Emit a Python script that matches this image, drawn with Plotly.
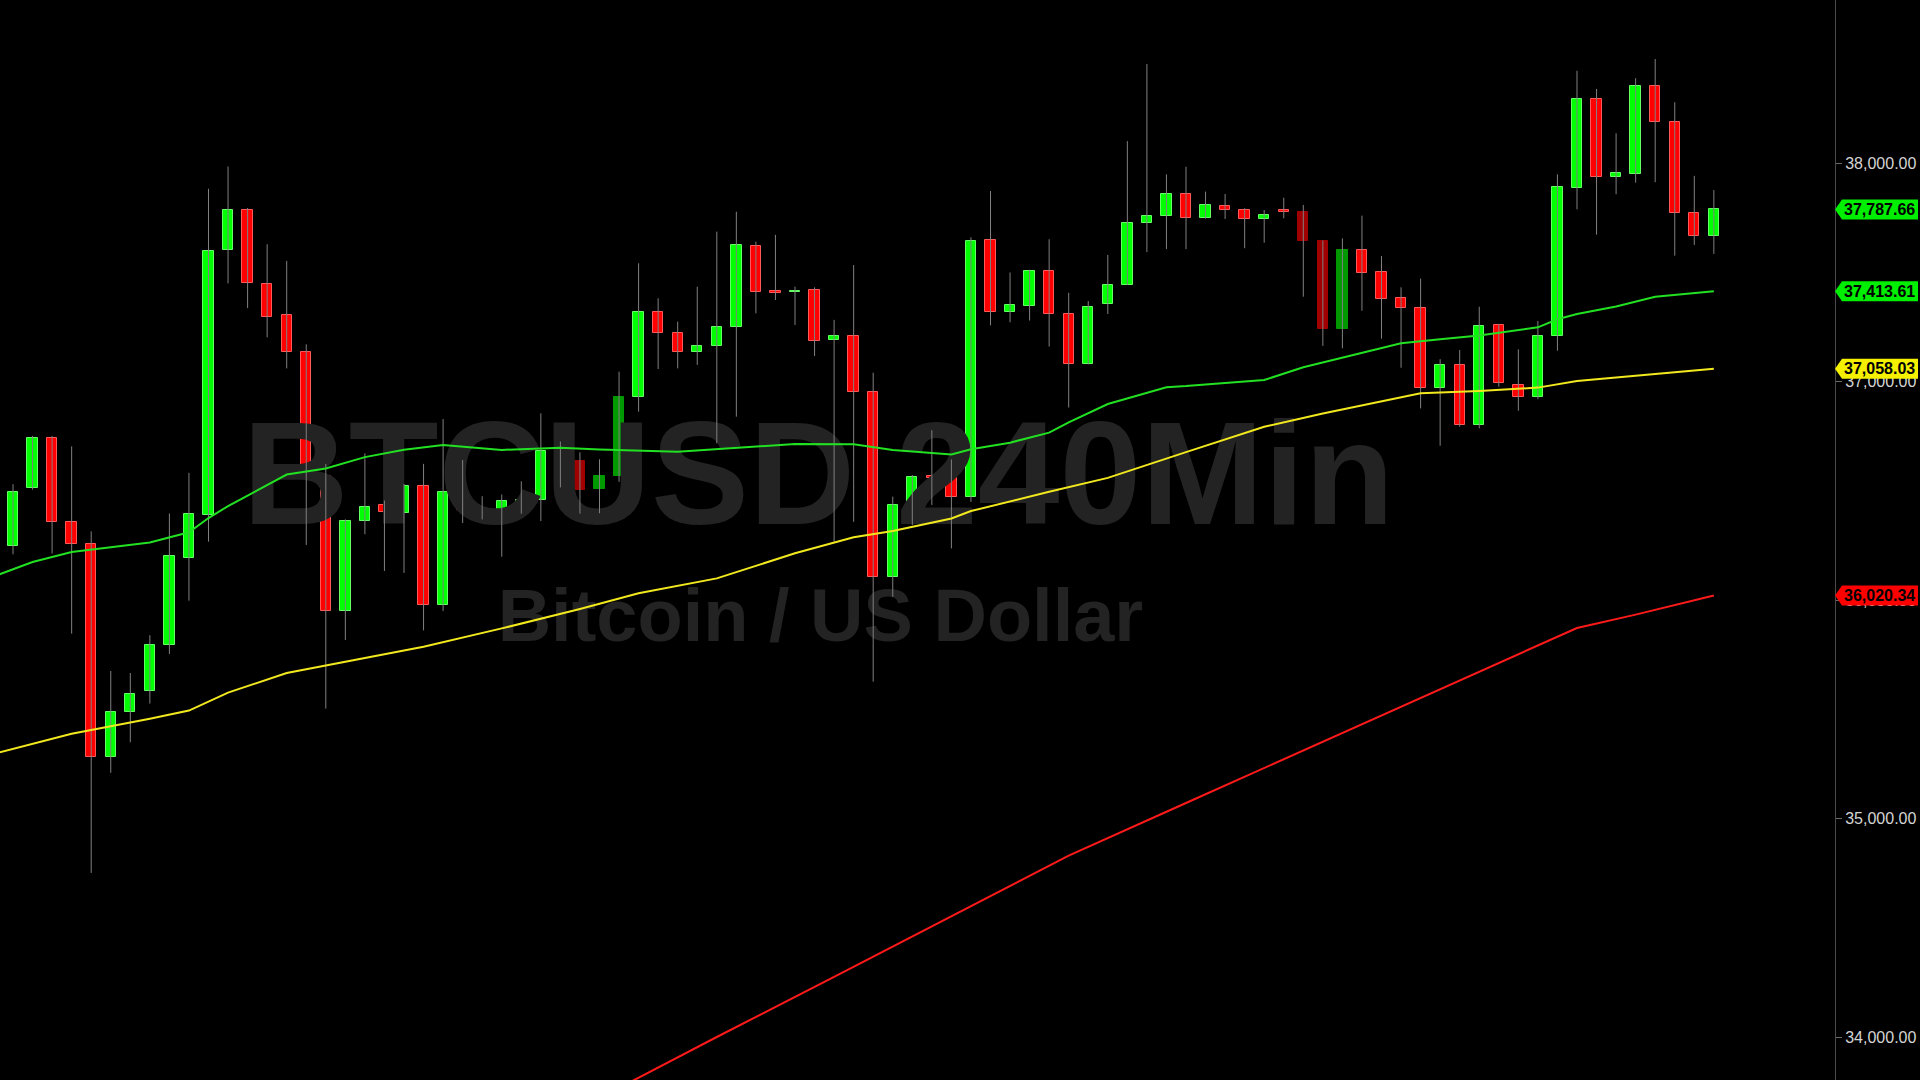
import plotly.graph_objects as go

# ---------------- data ----------------
candle_idx = list(range(88))

open_ = [36245, 36511, 36742, 36357, 36258, 35282, 35489, 35582, 35794, 36194,
         36388, 37600, 37785, 37446, 37303, 37136, 36566, 35951, 36363, 36433,
         36399, 36522, 35975, 36499, 36411, 36385, 36448, 36457, 36553, 36634,
         36507, 36568, 36930, 37317, 37221, 37134, 37161, 37251, 37620, 37412,
         37410, 37419, 37189, 37208, 36952, 36104, 36420, 36566, 36560, 36470,
         37646, 37319, 37346, 37508, 37308, 37081, 37355, 37443, 37725, 37757,
         37858, 37747, 37805, 37785, 37744, 37783, 37777, 37643, 37239, 37602,
         37500, 37382, 37338, 36972, 37076, 36800, 37259, 36983, 36930, 37207,
         37887, 38293, 37935, 37951, 38354, 38186, 37771, 37667]
high = [36530, 36751, 36751, 36703, 36314, 35675, 35666, 35839, 36396, 36582,
        37882, 37984, 37794, 37628, 37552, 37170, 36623, 36369, 36671, 36455,
        36531, 36623, 36828, 36641, 36475, 36483, 36543, 36854, 36725, 36676,
        36644, 37045, 37541, 37381, 37274, 37434, 37686, 37777, 37640, 37671,
        37434, 37431, 37282, 37533, 37040, 36473, 36572, 36777, 36643, 37660,
        37872, 37499, 37511, 37651, 37406, 37368, 37579, 38100, 38453, 37948,
        37983, 37869, 37858, 37793, 37785, 37841, 37808, 37645, 37655, 37759,
        37574, 37431, 37471, 37102, 37144, 37342, 37263, 37147, 37277, 37948,
        38422, 38339, 38136, 38388, 38476, 38278, 37941, 37876]
low = [36209, 36505, 36213, 35846, 34751, 35209, 35349, 35526, 35753, 35997,
       36267, 37449, 37336, 37202, 37060, 36252, 35503, 35817, 36301, 36133,
       36124, 35861, 35950, 36352, 36369, 36198, 36395, 36361, 36515, 36395,
       36397, 36541, 36862, 37057, 37060, 37076, 36717, 36839, 37312, 37373,
       37259, 37117, 36267, 36358, 35626, 36015, 36343, 36435, 36236, 36449,
       37257, 37271, 37279, 37160, 36881, 37078, 37309, 37442, 37592, 37606,
       37606, 37746, 37744, 37610, 37635, 37747, 37388, 37163, 37152, 37324,
       37196, 37063, 36877, 36706, 36793, 36786, 36976, 36866, 36919, 37141,
       37788, 37672, 37857, 37910, 37912, 37576, 37625, 37584]
close = [36494, 36742, 36357, 36258, 35282, 35489, 35572, 35796, 36202, 36392,
         37597, 37785, 37449, 37297, 37137, 36562, 35951, 36363, 36426, 36401,
         36522, 35975, 36496, 36410, 36399, 36454, 36457, 36681, 36638, 36504,
         36566, 36928, 37317, 37223, 37134, 37163, 37249, 37625, 37411, 37405,
         37416, 37185, 37208, 36953, 36104, 36435, 36564, 36560, 36470, 37645,
         37319, 37352, 37508, 37308, 37081, 37343, 37443, 37725, 37758, 37858,
         37747, 37806, 37785, 37744, 37763, 37778, 37643, 37239, 37602, 37495,
         37379, 37335, 36972, 37076, 36800, 37254, 36995, 36928, 37208, 37890,
         38292, 37935, 37954, 38354, 38186, 37771, 37665, 37787.66]

# candles drawn in a muted shade on the source chart
muted_candles = [28, 29, 30, 31, 66, 67, 68]

# moving averages, read at selected candles
ma_fast_idx = [-1, 1, 3, 7, 9, 10, 11, 14, 16, 18, 20, 22, 25, 28, 30, 34, 40, 43,
               45, 48, 49, 51, 53, 54, 56, 59, 60, 64, 66, 69, 71, 73, 75, 78, 79,
               80, 82, 84, 86, 87]
ma_fast_val = [36107, 36174, 36220, 36263, 36310, 36375, 36430, 36574, 36602, 36654,
               36688, 36709, 36687, 36697, 36689, 36679, 36714, 36713, 36687, 36666,
               36690, 36720, 36766, 36813, 36897, 36974, 36979, 37007, 37065, 37129,
               37175, 37193, 37211, 37248, 37285, 37309, 37343, 37388, 37407, 37413.61]

ma_mid_idx = [-1, 3, 7, 9, 11, 14, 21, 25, 29, 32, 36, 40, 43, 45, 48, 49, 53, 56,
              60, 64, 67, 71, 72, 75, 78, 80, 84, 87]
ma_mid_val = [35295, 35388, 35457, 35494, 35576, 35666, 35786, 35870, 35959, 36031,
              36099, 36214, 36287, 36316, 36373, 36407, 36495, 36559, 36677, 36793,
              36854, 36930, 36946, 36957, 36972, 37002, 37034, 37058.03]

ma_slow_idx = [31, 36, 42, 48, 54, 60, 66, 72, 77, 80, 83, 87]
ma_slow_val = [33767, 34000, 34275, 34554, 34830, 35071, 35311, 35552, 35752, 35872,
               35933, 36020.34]

ytick_vals = [34000, 35000, 36000, 37000, 38000]
ytick_text = ["34,000.00", "35,000.00", "36,000.00", "37,000.00", "38,000.00"]

tag_values = [37787.66, 37413.61, 37058.03, 36020.34]
tag_text = ["37,787.66", "37,413.61", "37,058.03", "36,020.34"]

watermark_main = "BTCUSD 240Min"
watermark_sub = "Bitcoin / US Dollar"

# ---------------- styling ----------------
GREEN = "#00ff00"
RED = "#ff0000"
GREEN_MUTED = "#009a00"
RED_MUTED = "#a00000"
FONT = "Liberation Sans, Arial, sans-serif"

X_RANGE = [-0.665, 93.197]
Y_RANGE = [33803.2, 38746.0]
PX_PER_PRICE = 1080 / (Y_RANGE[1] - Y_RANGE[0])

fig = go.Figure()

# watermark (beneath the candles)
fig.add_trace(go.Scatter(
    x=[41.2], y=[36518], mode="text", text=[watermark_main],
    textposition="middle center",
    textfont=dict(family=FONT, size=147, color="#232323", weight="bold"),
    hoverinfo="skip", showlegend=False))
fig.add_trace(go.Scatter(
    x=[41.3], y=[35897], mode="text", text=[watermark_sub],
    textposition="middle center",
    textfont=dict(family=FONT, size=74, color="#232323", weight="bold"),
    hoverinfo="skip", showlegend=False))

# wicks
wx, wy = [], []
for i, h, l in zip(candle_idx, high, low):
    wx += [i, i, None]
    wy += [l, h, None]
fig.add_trace(go.Scatter(x=wx, y=wy, mode="lines",
                         line=dict(color="#808080", width=1),
                         hoverinfo="skip", showlegend=False))

# bodies
bases, heights, colors, edges = [], [], [], []
for i, o, c in zip(candle_idx, open_, close):
    up = c >= o
    bases.append(min(o, c))
    heights.append(abs(c - o))
    if i in muted_candles:
        col = GREEN_MUTED if up else RED_MUTED
        edge = col
    else:
        col = GREEN if up else RED
        edge = "#66ff66" if up else "#ff5a5a"
    colors.append(col)
    edges.append(edge)
fig.add_trace(go.Bar(x=candle_idx, y=heights, base=bases, width=0.53,
                     marker=dict(color=colors, line=dict(color=edges, width=1)),
                     hoverinfo="skip", showlegend=False))

# moving averages
fig.add_trace(go.Scatter(x=ma_slow_idx, y=ma_slow_val, mode="lines",
                         line=dict(color="#ff1a1a", width=2),
                         hoverinfo="skip", showlegend=False))
fig.add_trace(go.Scatter(x=ma_mid_idx, y=ma_mid_val, mode="lines",
                         line=dict(color="#f2e81e", width=2),
                         hoverinfo="skip", showlegend=False))
fig.add_trace(go.Scatter(x=ma_fast_idx, y=ma_fast_val, mode="lines",
                         line=dict(color="#22e022", width=2),
                         hoverinfo="skip", showlegend=False))

# price tags on the axis
tag_fill = ["#00ee00", "#00ee00", "#f4f000", "#ff0000"]
half = 10 / PX_PER_PRICE
x_tip, x_body, x_end = 1.0, 1 + 7 / 1835, 1 + 83 / 1835
for v, t, col in zip(tag_values, tag_text, tag_fill):
    path = (f"M {x_tip},{v} L {x_body},{v + half} L {x_end},{v + half} "
            f"L {x_end},{v - half} L {x_body},{v - half} Z")
    fig.add_shape(type="path", path=path, xref="paper", yref="y",
                  fillcolor=col, line=dict(width=0), layer="above")
    fig.add_annotation(x=1 + 7.5 / 1835, y=v, xref="paper", yref="y",
                       text=t, showarrow=False, xanchor="left", yanchor="middle",
                       font=dict(family=FONT, size=16, color="#000000", weight="bold"),
                       borderpad=0)

fig.update_layout(
    width=1920, height=1080,
    margin=dict(l=0, r=85, t=0, b=0, pad=0),
    paper_bgcolor="#000000", plot_bgcolor="#000000",
    showlegend=False, bargap=0,
    xaxis=dict(range=X_RANGE, domain=[0, 1], showgrid=False, zeroline=False,
               showticklabels=False, showline=False, ticks=""),
    yaxis=dict(range=Y_RANGE, side="right", showgrid=False, zeroline=False,
               tickvals=ytick_vals, ticktext=ytick_text,
               ticks="outside", ticklen=6, tickcolor="#6a6a6a", tickwidth=1,
               showline=True, linecolor="#4a4a4a", linewidth=1,
               tickfont=dict(family=FONT, size=16, color="#d4d4d4")),
)

fig.write_html(
    "out.html",
    config={"displayModeBar": False},
    post_script=("document.documentElement.style.margin='0';"
                 "document.body.style.margin='0';document.body.style.padding='0';"
                 "document.body.style.overflow='hidden';"
                 "document.body.style.background='#000';"),
)
